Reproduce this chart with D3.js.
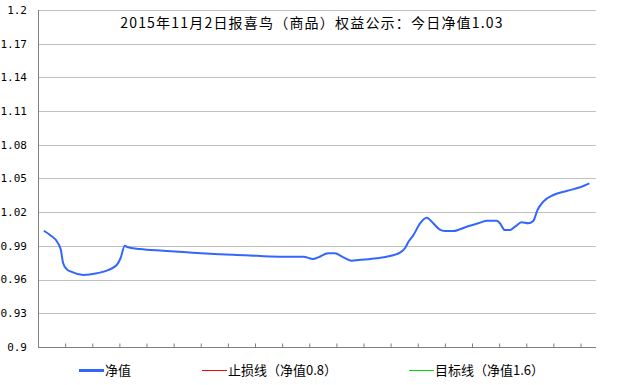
<!DOCTYPE html>
<html><head><meta charset="utf-8">
<script src="https://cdn.jsdelivr.net/npm/d3@7"></script>
<style>body{margin:0;background:#fff}svg{display:block}</style>
</head><body>
<svg id="c" width="633" height="385"></svg>
<script>
const title = "2015年11月2日报喜鸟（商品）权益公示：今日净值1.03";
const yTicks = [0.9, 0.93, 0.96, 0.99, 1.02, 1.05, 1.08, 1.11, 1.14, 1.17, 1.2];
const yTickLabels = ["0.9","0.93","0.96","0.99","1.02","1.05","1.08","1.11","1.14","1.17","1.2"];
const xTicks = d3.range(7, 141, 7);
const day = [1.5,3.1,5.2,5.9,6.5,7.4,8.7,11.7,15.2,18.1,20.3,21.3,22.4,23.0,26.3,32.3,38.4,44.4,53.4,62.4,68.5,71.0,72.3,74.9,76.6,78.8,81.0,82.7,87.4,90.8,93.4,94.7,95.6,96.9,98.6,100.3,102.0,103.6,105.0,107.2,110.6,114.1,115.8,118.4,119.2,120.5,121.8,123.1,124.8,126.5,127.8,128.9,130.4,133.0,136.4,139.9,142.3];
const nav = [1.0035,0.9997,0.9923,0.9863,0.9745,0.9694,0.9668,0.9641,0.9656,0.9685,0.973,0.979,0.9902,0.989,0.9872,0.9857,0.9843,0.983,0.9817,0.9804,0.9804,0.9783,0.9798,0.9834,0.9834,0.9798,0.9768,0.9774,0.979,0.981,0.984,0.9879,0.9937,0.9997,1.0101,1.0151,1.0101,1.0048,1.0033,1.0033,1.0071,1.0107,1.0124,1.0124,1.0101,1.0041,1.0041,1.0071,1.011,1.0101,1.0122,1.022,1.0294,1.0353,1.0389,1.0422,1.0457];
const legendItems = [
  {name:"净值", color:"#3366FF", w:3},
  {name:"止损线（净值0.8）", color:"#FF0000", w:1},
  {name:"目标线（净值1.6）", color:"#00DD00", w:1}
];

const svg = d3.select("#c");
const L = 38, R = 596, T = 10, B = 347;
const x = d3.scaleLinear().domain([0, 144]).range([L, R]);
const y = d3.scaleLinear().domain([0.9, 1.2]).range([B, T]);

// gridlines
svg.append("g").selectAll("line").data(yTicks.slice(1)).join("line")
  .attr("x1", L).attr("x2", R)
  .attr("y1", d => Math.round(y(d)) + 0.5).attr("y2", d => Math.round(y(d)) + 0.5)
  .attr("stroke", "#c0c0c0").attr("stroke-width", 1);

// y labels
svg.append("g").selectAll("text").data(yTicks).join("text")
  .attr("x", 27).attr("y", d => y(d))
  .attr("dy", "0.35em").attr("text-anchor", "end")
  .attr("font-family", "DejaVu Sans Mono, monospace").attr("font-size", 11)
  .attr("fill", "#000")
  .text((d, i) => yTickLabels[i]);

// axes
const xa = svg.append("g").attr("transform", `translate(0,${B + 0.5})`)
  .call(d3.axisBottom(x).tickValues(xTicks).tickSize(-4).tickFormat(""));
xa.select(".domain").attr("d", `M${L},0H${R}`).attr("stroke", "#808080");
xa.selectAll(".tick line").attr("stroke", "#808080");
svg.append("line").attr("x1", L + 0.5).attr("x2", L + 0.5).attr("y1", T).attr("y2", B)
  .attr("stroke", "#808080");

// line
const pts = day.map((d, i) => [d, nav[i]]);
svg.append("path").datum(pts)
  .attr("fill", "none").attr("stroke", "#3366FF").attr("stroke-width", 2)
  .attr("d", d3.line().x(d => x(d[0])).y(d => y(d[1])).curve(d3.curveMonotoneX));

// title
svg.append("text").attr("x", 312).attr("y", 23).attr("dy", "0.35em")
  .attr("text-anchor", "middle")
  .attr("font-family", "Noto Sans CJK SC, sans-serif").attr("font-size", 14)
  .attr("letter-spacing", 1.2)
  .text(title);

// legend
const lx = [79, 202, 409];
const lg = svg.append("g").selectAll("g").data(legendItems).join("g")
  .attr("transform", (d, i) => `translate(${lx[i]},370.5)`);
lg.append("line").attr("x1", 0).attr("x2", 25)
  .attr("stroke", d => d.color).attr("stroke-width", d => d.w);
lg.append("text").attr("x", 26).attr("dy", "0.35em")
  .attr("font-family", "Noto Sans CJK SC, sans-serif").attr("font-size", 13)
  .text(d => d.name);
</script>
</body></html>
